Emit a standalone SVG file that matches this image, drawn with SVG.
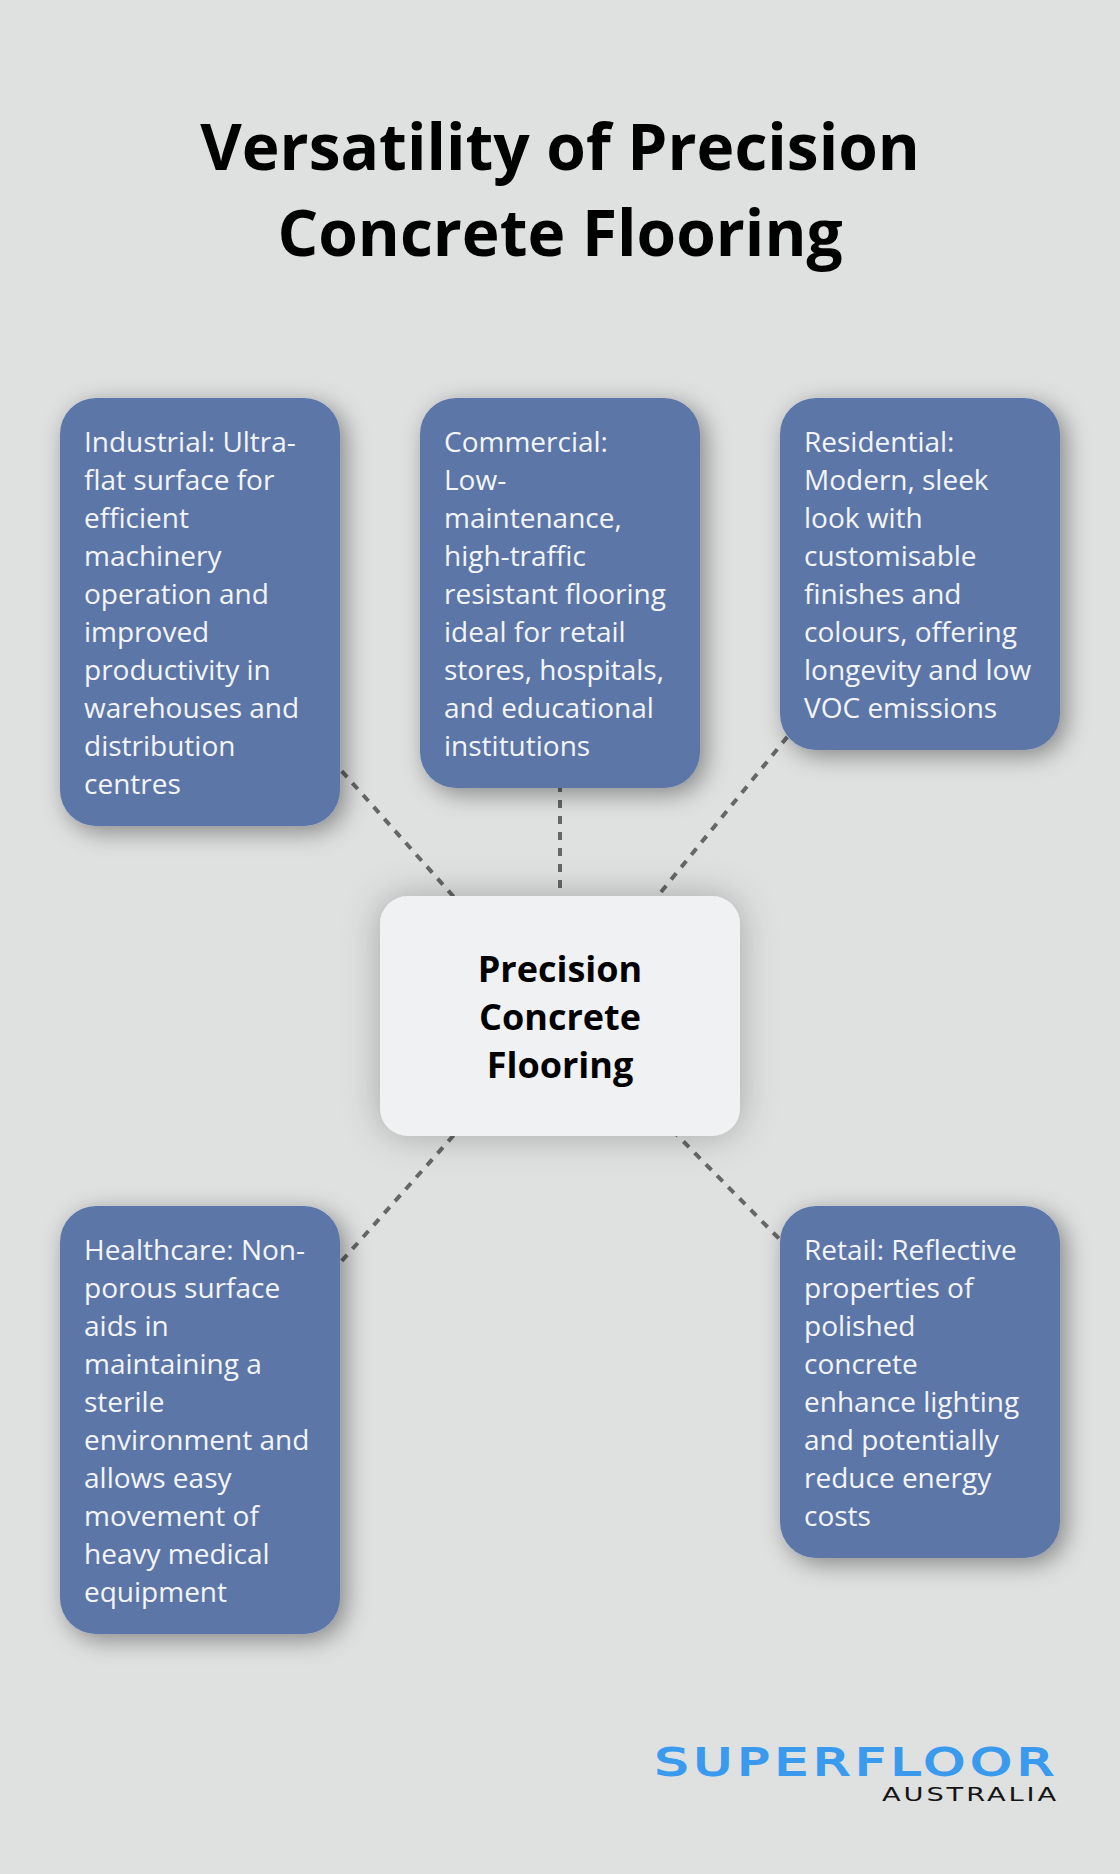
<svg xmlns="http://www.w3.org/2000/svg" width="1120" height="1874" viewBox="0 0 1120 1874">
<style>
text{font-family:"Open Sans","Noto Sans",sans-serif}
.title{font-size:64px;font-weight:700;fill:#000;text-anchor:middle}
.t{font-size:28px;fill:#f3f5f8}
.c{font-size:36px;font-weight:700;fill:#000;text-anchor:middle}
.n{fill:#5d76a8;filter:url(#s1)}
.m{fill:#eff1f3;filter:url(#s2)}
#connectors line{stroke:#666;stroke-width:4;stroke-dasharray:8 8;fill:none}
</style>
<defs>
<filter id="s1" x="-30%" y="-30%" width="160%" height="160%"><feDropShadow dx="6" dy="6" stdDeviation="12" flood-color="#000" flood-opacity=".4"/></filter>
<filter id="s2" x="-30%" y="-40%" width="160%" height="180%"><feDropShadow dx="0" dy="0" stdDeviation="18" flood-color="#000" flood-opacity=".26"/></filter>
</defs>
<rect width="1120" height="1874" fill="#dfe1e0"/>
<g id="title"><text class="title" x="560" y="170">Versatility of Precision</text><text class="title" x="560" y="256">Concrete Flooring</text></g>
<g id="connectors">
<line x1="560" y1="1016" x2="200" y2="612"/>
<line x1="560" y1="1016" x2="560" y2="593"/>
<line x1="560" y1="1016" x2="920" y2="574"/>
<line x1="560" y1="1016" x2="200" y2="1420"/>
<line x1="560" y1="1016" x2="920" y2="1382"/>
</g>
<g id="node-industrial"><rect class="n" x="60" y="398" width="280" height="428" rx="36"/>
<text class="t" x="84" y="452">Industrial: Ultra-</text><text class="t" x="84" y="490">flat surface for</text><text class="t" x="84" y="528">efficient</text><text class="t" x="84" y="566">machinery</text><text class="t" x="84" y="604">operation and</text><text class="t" x="84" y="642">improved</text><text class="t" x="84" y="680">productivity in</text><text class="t" x="84" y="718">warehouses and</text><text class="t" x="84" y="756">distribution</text><text class="t" x="84" y="794">centres</text></g>
<g id="node-commercial"><rect class="n" x="420" y="398" width="280" height="390" rx="36"/>
<text class="t" x="444" y="452">Commercial:</text><text class="t" x="444" y="490">Low-</text><text class="t" x="444" y="528">maintenance,</text><text class="t" x="444" y="566">high-traffic</text><text class="t" x="444" y="604">resistant flooring</text><text class="t" x="444" y="642">ideal for retail</text><text class="t" x="444" y="680">stores, hospitals,</text><text class="t" x="444" y="718">and educational</text><text class="t" x="444" y="756">institutions</text></g>
<g id="node-residential"><rect class="n" x="780" y="398" width="280" height="352" rx="36"/>
<text class="t" x="804" y="452">Residential:</text><text class="t" x="804" y="490">Modern, sleek</text><text class="t" x="804" y="528">look with</text><text class="t" x="804" y="566">customisable</text><text class="t" x="804" y="604">finishes and</text><text class="t" x="804" y="642">colours, offering</text><text class="t" x="804" y="680">longevity and low</text><text class="t" x="804" y="718">VOC emissions</text></g>
<g id="node-center"><rect class="m" x="380" y="896" width="360" height="240" rx="28"/>
<text class="c" x="560" y="982">Precision</text><text class="c" x="560" y="1030">Concrete</text><text class="c" x="560" y="1078">Flooring</text></g>
<g id="node-healthcare"><rect class="n" x="60" y="1206" width="280" height="428" rx="36"/>
<text class="t" x="84" y="1260">Healthcare: Non-</text><text class="t" x="84" y="1298">porous surface</text><text class="t" x="84" y="1336">aids in</text><text class="t" x="84" y="1374">maintaining a</text><text class="t" x="84" y="1412">sterile</text><text class="t" x="84" y="1450">environment and</text><text class="t" x="84" y="1488">allows easy</text><text class="t" x="84" y="1526">movement of</text><text class="t" x="84" y="1564">heavy medical</text><text class="t" x="84" y="1602">equipment</text></g>
<g id="node-retail"><rect class="n" x="780" y="1206" width="280" height="352" rx="36"/>
<text class="t" x="804" y="1260">Retail: Reflective</text><text class="t" x="804" y="1298">properties of</text><text class="t" x="804" y="1336">polished</text><text class="t" x="804" y="1374">concrete</text><text class="t" x="804" y="1412">enhance lighting</text><text class="t" x="804" y="1450">and potentially</text><text class="t" x="804" y="1488">reduce energy</text><text class="t" x="804" y="1526">costs</text></g>
<g id="logo"><text x="655" y="1775" textLength="404" lengthAdjust="spacingAndGlyphs" style="font-family:'DejaVu Sans',sans-serif;font-size:37px;letter-spacing:4px;fill:#3a9bee;stroke:#3a9bee;stroke-width:1.8">SUPERFLOOR</text>
<text x="882" y="1801" textLength="177" lengthAdjust="spacingAndGlyphs" style="font-family:'DejaVu Sans',sans-serif;font-size:19px;letter-spacing:2px;fill:#151515">AUSTRALIA</text></g>
</svg>
